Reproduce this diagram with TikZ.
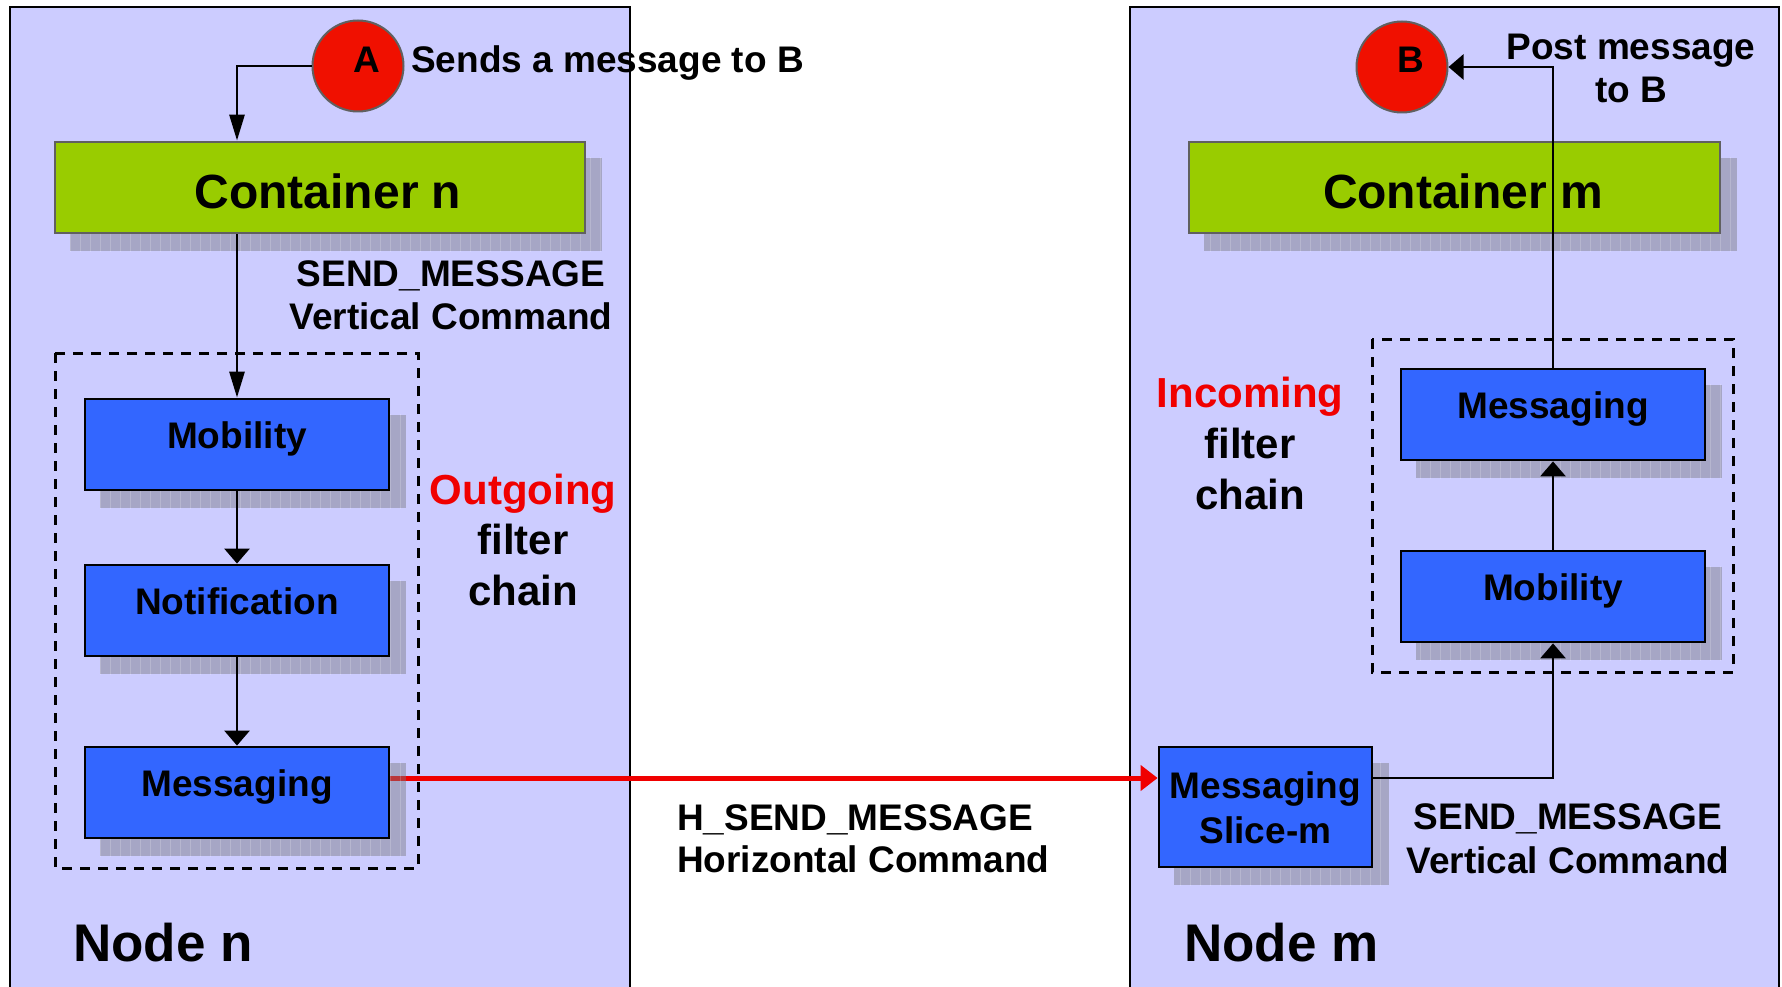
\documentclass[tikz,border=0pt]{standalone}
\usepackage{fontspec}
\setmainfont{Liberation Sans}
\usetikzlibrary{arrows.meta,calc}

\pgfdeclarelayer{panel}
\pgfdeclarelayer{wire}
\pgfdeclarelayer{shade}
\pgfsetlayers{panel,wire,shade,main}

\definecolor{nodebg}{RGB}{204,204,255}
\definecolor{contgreen}{RGB}{153,204,0}
\definecolor{filterblue}{RGB}{51,102,255}
\definecolor{agentred}{RGB}{240,16,0}
\definecolor{hotred}{RGB}{240,0,0}
\definecolor{rimgray}{RGB}{96,96,96}
\definecolor{shadegray}{RGB}{120,120,128}

\tikzset{
  panel/.style={draw=black, line width=2.5pt, fill=nodebg},
  container/.style={draw=rimgray, line width=2.8pt, fill=contgreen,
    minimum height=91pt, inner sep=0pt},
  filterbox/.style={draw=black, line width=2.8pt, fill=filterblue,
    minimum width=304pt, minimum height=91pt, inner sep=0pt},
  agent/.style={circle, draw=rimgray, line width=2pt, fill=agentred,
    minimum size=91pt, inner sep=0pt},
  chainbox/.style={draw=black, line width=3pt, dash pattern=on 10pt off 8pt},
  conn/.style={draw=black, line width=2.8pt, -{Triangle[length=15pt,width=25pt]}},
  longconn/.style={draw=black, line width=2.8pt, -{Triangle[length=26pt,width=15pt]}},
  hconn/.style={draw=hotred, line width=5pt, -{Triangle[length=17pt,width=25pt]}},
  txt/.style={font=\fontsize{37}{43}\selectfont\bfseries, inner sep=0pt, anchor=base},
  bigtxt/.style={font=\fontsize{48}{56}\selectfont\bfseries, inner sep=0pt, anchor=base},
  redtxt/.style={font=\fontsize{42}{50}\selectfont\bfseries, inner sep=0pt, anchor=base},
  nodetxt/.style={font=\fontsize{53}{60}\selectfont\bfseries, inner sep=0pt, anchor=base west},
  shadefill/.style={fill=shadegray, fill opacity=0.45},
  shadegrid/.style={draw=white, line width=0.8pt, draw opacity=0.18},
}

% offset drop shade with a fine grid, behind a box
\newcommand\dropshade[1]{%
  \begin{pgfonlayer}{shade}
    \fill[shadefill] ($(#1.north west)+(16,17)$) rectangle ($(#1.south east)+(16,17)$);
    \begin{scope}
      \clip ($(#1.north west)+(16,17)$) rectangle ($(#1.south east)+(16,17)$);
      \draw[shadegrid, step=10] ($(#1.north west)+(10,10)$) grid ($(#1.south east)+(30,30)$);
    \end{scope}
  \end{pgfonlayer}}

\begin{document}
\begin{tikzpicture}[x=1pt, y=-1pt]
  \useasboundingbox (0,0) rectangle (1782,987);

  % the two platform nodes
  \begin{pgfonlayer}{panel}
    \draw[panel] (10,7) rectangle (630,995);
    \draw[panel] (1130,7) rectangle (1779,995);
  \end{pgfonlayer}

  % filter chain frames
  \draw[chainbox] (55,353) rectangle (418,868);
  \draw[chainbox] (1372,339) rectangle (1733,672);

  % agents
  \node[agent] (A) at (358,66) {};
  \node[agent] (B) at (1402,67) {};
  \node[txt] (Alab) at (367,73) {A};
  \node[txt] (Blab) at (1411,73) {B};

  % containers
  \node[container, minimum width=530pt] (cn) at (320,187.5) {};
  \node[container, minimum width=531pt] (cm) at (1454.5,187.5) {};
  \dropshade{cn}
  \dropshade{cm}
  \node[bigtxt] (cnlab) at (328,208) {Container n};
  \node[bigtxt] (cmlab) at (1463,208) {Container m};

  % outgoing filters on node n
  \node[filterbox] (mobL) at (237,444.5) {};
  \node[filterbox] (notL) at (237,610.5) {};
  \node[filterbox] (msgL) at (237,792.5) {};
  \dropshade{mobL}
  \dropshade{notL}
  \dropshade{msgL}
  \node[txt] (mobLlab) at (237,448) {Mobility};
  \node[txt] (notLlab) at (237,614) {Notification};
  \node[txt] (msgLlab) at (237,796) {Messaging};

  % incoming filters on node m
  \node[filterbox] (msgR) at (1553,414.5) {};
  \node[filterbox] (mobR) at (1553,596.5) {};
  \node[draw=black, line width=2.8pt, fill=filterblue, minimum width=213pt,
        minimum height=120pt, inner sep=0pt] (slice) at (1265.5,807) {};
  \dropshade{msgR}
  \dropshade{mobR}
  \dropshade{slice}
  \node[txt] (msgRlab) at (1553,418) {Messaging};
  \node[txt] (mobRlab) at (1553,600) {Mobility};
  \node[txt] (slicelab1) at (1265.5,798) {Messaging};
  \node[txt] (slicelab2) at (1265.5,843) {Slice-m};

  % captions
  \node[txt, anchor=base west] (sends) at (411,73) {Sends a message to B};
  \node[txt] (post1) at (1631,60) {Post message};
  \node[txt] (post2) at (1631,103) {to B};
  \node[txt] (vcL1) at (451,286) {SEND\_MESSAGE};
  \node[txt] (vcL2) at (451,329) {Vertical Command};
  \node[txt] (vcR1) at (1568,829) {SEND\_MESSAGE};
  \node[txt] (vcR2) at (1568,873) {Vertical Command};
  \node[txt, anchor=base west] (hc1) at (677,830) {H\_SEND\_MESSAGE};
  \node[txt, anchor=base west] (hc2) at (677,872) {Horizontal Command};
  \node[redtxt, text=hotred] (out1) at (523,504) {Outgoing};
  \node[redtxt] (out2) at (523,554) {filter};
  \node[redtxt] (out3) at (523,605) {chain};
  \node[redtxt, text=hotred] (in1) at (1250,407) {Incoming};
  \node[redtxt] (in2) at (1250,458) {filter};
  \node[redtxt] (in3) at (1250,509) {chain};
  \node[nodetxt] (nodeN) at (73,961) {Node n};
  \node[nodetxt] (nodeM) at (1184,961) {Node m};

  % vertical commands
  \draw[longconn] (A.west) -| (mobL.north |- cn.north);
  \draw[longconn] (cn.south -| mobL.north) -- (mobL.north);
  \draw[conn] (mobL.south) -- (notL.north);
  \draw[conn] (notL.south) -- (msgL.north);
  \coordinate (hy) at (0,778);
  \draw[conn] (slice.east |- hy) -| (mobR.south);
  \draw[conn] (mobR.north) -- (msgR.south);
  \draw[conn] (msgR.north) |- (B.east);

  % horizontal command between the nodes
  \begin{pgfonlayer}{wire}
    \draw[hconn] (msgL.east |- hy) -- (slice.west |- hy);
  \end{pgfonlayer}
\end{tikzpicture}
\end{document}
